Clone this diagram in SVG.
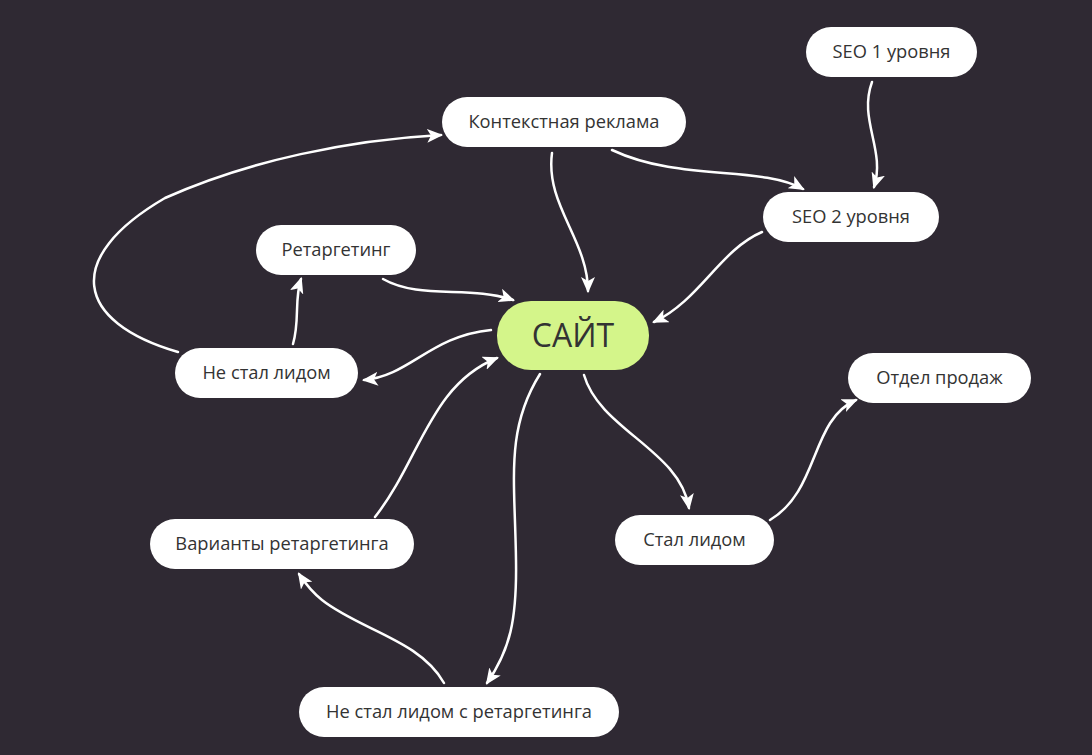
<svg xmlns="http://www.w3.org/2000/svg" width="1092" height="755" viewBox="0 0 1092 755">
<defs>
<style>
.node rect{fill:#ffffff}
.node text{font-family:"Open Sans","Noto Sans","Liberation Sans",sans-serif;font-size:18.3px;fill:#333333;text-anchor:middle;dominant-baseline:central}
#site rect{fill:#d4f58a}
#site text{font-size:32px;fill:#333333}
.conn path{fill:none;stroke:#ffffff;stroke-width:2.5;stroke-linecap:round;marker-end:url(#arr)}
</style>
<marker id="arr" markerUnits="userSpaceOnUse" markerWidth="16" markerHeight="14" viewBox="0 0 16 14" refX="14" refY="7" orient="auto">
<path d="M0,0 L16,7 L0,14 L4,7 Z" fill="#ffffff"/>
</marker>
</defs>
<rect width="1092" height="755" fill="#2f2933"/>
<g class="conn">
<path d="M552,153 C545,205 588,240 588,291"/>
<path d="M612,150 C680,182 760,165 803,189"/>
<path d="M872,82 C858,120 886,150 874,187"/>
<path d="M762,232 C720,250 700,300 654,322"/>
<path d="M383,279 C420,300 470,285 513,300"/>
<path d="M491,330 C430,336 410,376 364,380"/>
<path d="M293,344 C300,320 294,300 301,279"/>
<path d="M178,352 C75,322 62,258 165,198 C250,160 350,140 441,135"/>
<path d="M375,517 C420,460 430,385 497,358"/>
<path d="M540,374 C505,430 515,480 516,560 C517,620 510,650 487,683"/>
<path d="M444,683 C420,640 360,630 322,600 C312,592 305,583 299,574"/>
<path d="M584,375 C600,430 680,450 689,508"/>
<path d="M770,520 C820,490 810,420 856,400"/>
</g>
<g id="seo1" class="node"><rect x="806" y="27" width="171" height="50" rx="25"/><text x="891.5" y="50">SEO 1 уровня</text></g>
<g id="context" class="node"><rect x="442" y="97" width="244" height="50" rx="25"/><text x="564" y="120">Контекстная реклама</text></g>
<g id="seo2" class="node"><rect x="763" y="192" width="176" height="50" rx="25"/><text x="851" y="215">SEO 2 уровня</text></g>
<g id="retarget" class="node"><rect x="256" y="225" width="160" height="50" rx="25"/><text x="336" y="248">Ретаргетинг</text></g>
<g id="site" class="node"><rect x="497" y="301" width="152" height="69" rx="34"/><text x="573" y="334">САЙТ</text></g>
<g id="notlead" class="node"><rect x="175" y="348" width="183" height="50" rx="25"/><text x="266.5" y="371">Не стал лидом</text></g>
<g id="sales" class="node"><rect x="848" y="353" width="183" height="50" rx="25"/><text x="939.5" y="376">Отдел продаж</text></g>
<g id="variants" class="node"><rect x="150" y="519" width="264" height="50" rx="25"/><text x="282" y="542">Варианты ретаргетинга</text></g>
<g id="lead" class="node"><rect x="615" y="515" width="159" height="50" rx="25"/><text x="694.5" y="538">Стал лидом</text></g>
<g id="notlead2" class="node"><rect x="299" y="687" width="320" height="50" rx="25"/><text x="459" y="710">Не стал лидом с ретаргетинга</text></g>
</svg>
